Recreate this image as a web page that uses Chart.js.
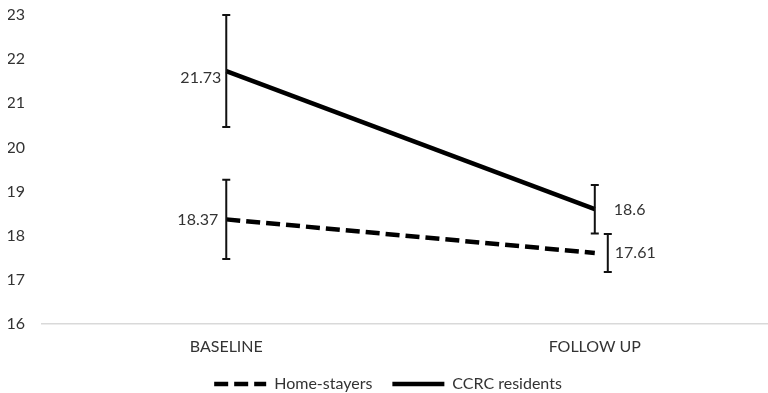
<!DOCTYPE html>
<html>
<head>
<meta charset="utf-8">
<script src="https://cdn.jsdelivr.net/npm/chart.js@4.4.0/dist/chart.umd.min.js"></script>
<style>
  html, body { margin: 0; padding: 0; background: #fff; }
  #wrap { width: 768px; height: 393px; }
</style>
</head>
<body>
<div id="wrap"><canvas id="myChart"></canvas></div>
<script>
// values
const categories = ['BASELINE', 'FOLLOW UP'];
const homeStayers = [18.37, 17.61];
const homeErr = [0.9, 0.43];
const ccrcResidents = [21.73, 18.6];
const ccrcErr = [1.27, 0.55];
const yTicks = [16, 17, 18, 19, 20, 21, 22, 23];

const textColor = '#333';
const fontFamily = 'Lato, "Open Sans", sans-serif';
const fontSize = 16;

const toPoints = (arr) => arr.map((v, i) => ({ x: i, y: v }));

// error bars + value labels, drawn through the chart scales
const errorBars = {
    id: 'errorBars',
    afterDatasetsDraw(chart, args, opts) {
        const ctx = chart.ctx;
        const xs = chart.scales.x;
        const ys = chart.scales.y;
        chart.data.datasets.forEach((ds, d) => {
            ds.data.forEach((pt, i) => {
                const px = xs.getPixelForValue(pt.x) + opts.barShift[d][i];
                const top = ys.getPixelForValue(pt.y + ds.err[i]);
                const bot = ys.getPixelForValue(pt.y - ds.err[i]);
                ctx.save();
                ctx.strokeStyle = '#111';
                ctx.lineWidth = 2;
                ctx.beginPath();
                ctx.moveTo(px, top);
                ctx.lineTo(px, bot);
                ctx.moveTo(px - 4, top);
                ctx.lineTo(px + 4, top);
                ctx.moveTo(px - 4, bot);
                ctx.lineTo(px + 4, bot);
                ctx.stroke();

                const lx = xs.getPixelForValue(pt.x) + opts.labelShift[d][i][0];
                const ly = ys.getPixelForValue(pt.y) + opts.labelShift[d][i][1];
                ctx.fillStyle = textColor;
                ctx.font = fontSize + 'px ' + fontFamily;
                ctx.textBaseline = 'middle';
                ctx.textAlign = opts.labelShift[d][i][0] < 0 ? 'right' : 'left';
                ctx.fillText(String(pt.y), lx, ly);
                ctx.restore();
            });
        });
    }
};

new Chart(document.getElementById('myChart'), {
    type: 'line',
    data: {
        datasets: [
            {
                label: 'Home-stayers',
                data: toPoints(homeStayers),
                err: homeErr,
                borderColor: '#000',
                backgroundColor: '#000',
                borderWidth: 4.5,
                borderDash: [14, 6],
                pointRadius: 0,
            },
            {
                label: 'CCRC residents',
                data: toPoints(ccrcResidents),
                err: ccrcErr,
                borderColor: '#000',
                backgroundColor: '#000',
                borderWidth: 4.5,
                pointRadius: 0,
            },
        ],
    },
    options: {
        responsive: true,
        maintainAspectRatio: false,
        animation: false,
        layout: { padding: { top: 15, left: 8, right: 0, bottom: -9 } },
        scales: {
            x: {
                type: 'linear',
                min: -0.5,
                max: 1.47,
                afterBuildTicks: (s) => { s.ticks = categories.map((c, i) => ({ value: i })); },
                afterFit: (s) => { s.height = 32; s.paddingLeft = 0; s.paddingRight = 0; },
                grid: { display: false, drawTicks: false },
                border: { display: true, color: '#d9d9d9', width: 1.5 },
                ticks: {
                    color: textColor,
                    font: { size: fontSize, family: fontFamily },
                    padding: 13,
                    callback: (v) => categories[v],
                },
            },
            y: {
                min: yTicks[0],
                max: yTicks[yTicks.length - 1],
                afterBuildTicks: (s) => { s.ticks = yTicks.map((v) => ({ value: v })); },
                afterFit: (s) => { s.width = 34; s.paddingTop = 0; s.paddingBottom = 0; },
                grid: { display: false, drawTicks: false },
                border: { display: false },
                ticks: {
                    color: textColor,
                    font: { size: fontSize, family: fontFamily },
                    padding: 17,
                },
            },
        },
        plugins: {
            legend: {
                position: 'bottom',
                labels: {
                    usePointStyle: true,
                    pointStyle: 'line',
                    pointStyleWidth: 52,
                    boxWidth: 52,
                    boxHeight: fontSize,
                    color: textColor,
                    font: { size: fontSize, family: fontFamily },
                    padding: 20,
                    generateLabels: (chart) => {
                        const items = Chart.defaults.plugins.legend.labels.generateLabels(chart);
                        items.forEach((it) => {
                            it.lineDash = chart.data.datasets[it.datasetIndex].borderDash || [];
                        });
                        return items;
                    },
                },
            },
            tooltip: { enabled: false },
            errorBars: {
                barShift: [[0, 13], [0, 0]],
                labelShift: [[[-8, 0], [20, 0]], [[-5, 7], [19, 1]]],
            },
        },
    },
    plugins: [errorBars],
});
</script>
</body>
</html>
